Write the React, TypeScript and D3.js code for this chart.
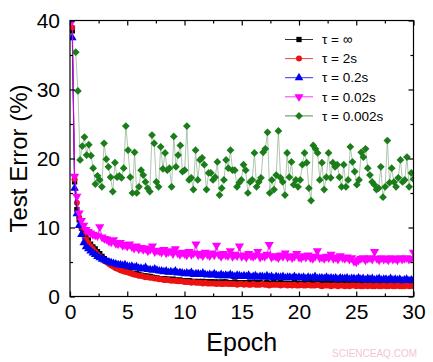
import React, { useEffect, useRef } from 'react';
import * as d3 from 'd3';

// test error (%) per 0.2 epoch
const epochStep = 0.2;

const tauInf = [
  38.5, 16.6, 12.6, 11.1, 9.9, 9.2, 8.6, 8.2, 7.6, 7.2,
  6.9, 6.5, 6.2, 5.8, 5.5, 5.2, 5.0, 4.8, 4.5, 4.3,
  4.2, 4.0, 3.9, 3.7, 3.6, 3.6, 3.4, 3.3, 3.3, 3.2,
  3.1, 3.0, 3.0, 2.9, 2.9, 2.8, 2.7, 2.7, 2.6, 2.6,
  2.6, 2.5, 2.5, 2.4, 2.5, 2.4, 2.3, 2.4, 2.3, 2.3,
  2.2, 2.3, 2.2, 2.2, 2.1, 2.2, 2.1, 2.2, 2.1, 2.1,
  2.1, 2.1, 2.1, 2.0, 2.1, 2.0, 2.1, 2.1, 2.0, 2.0,
  2.0, 2.1, 2.0, 2.0, 1.9, 2.0, 2.0, 1.9, 2.0, 2.0,
  1.9, 2.0, 2.0, 1.9, 1.9, 2.0, 1.9, 1.9, 2.0, 1.9,
  1.9, 2.0, 1.9, 1.9, 1.9, 1.8, 1.9, 2.0, 1.9, 1.9,
  1.9, 1.8, 1.9, 1.9, 2.0, 1.9, 1.8, 1.9, 1.9, 1.8,
  1.9, 1.9, 1.8, 1.9, 1.9, 1.8, 1.9, 1.9, 1.8, 1.9,
  1.8, 1.9, 1.9, 1.8, 1.9, 1.8, 1.9, 1.9, 1.8, 1.8,
  1.9, 1.8, 1.9, 1.8, 1.8, 1.9, 1.8, 1.8, 1.9, 1.8,
  1.8, 1.9, 1.8, 1.8, 1.9, 1.8, 1.8, 1.9, 1.8, 1.9,
];

const tau2s = [
  39.0, 17.0, 13.6, 11.5, 10.0, 9.0, 8.3, 7.8, 7.3, 6.9,
  6.5, 6.1, 5.8, 5.5, 5.2, 5.0, 4.7, 4.5, 4.3, 4.1,
  4.0, 3.8, 3.7, 3.6, 3.5, 3.4, 3.3, 3.2, 3.1, 3.0,
  3.0, 2.9, 2.8, 2.8, 2.7, 2.7, 2.6, 2.6, 2.5, 2.5,
  2.4, 2.4, 2.4, 2.3, 2.3, 2.3, 2.2, 2.2, 2.2, 2.1,
  2.1, 2.1, 2.0, 2.1, 2.0, 2.0, 2.0, 1.9, 2.0, 1.9,
  1.9, 1.9, 1.9, 1.8, 1.9, 1.8, 1.8, 1.9, 1.8, 1.8,
  1.8, 1.8, 1.7, 1.8, 1.8, 1.7, 1.8, 1.7, 1.7, 1.8,
  1.7, 1.7, 1.7, 1.8, 1.7, 1.7, 1.6, 1.7, 1.7, 1.7,
  1.7, 1.6, 1.7, 1.7, 1.6, 1.7, 1.6, 1.7, 1.6, 1.6,
  1.7, 1.6, 1.6, 1.7, 1.6, 1.6, 1.6, 1.7, 1.6, 1.5,
  1.6, 1.6, 1.6, 1.5, 1.6, 1.6, 1.5, 1.6, 1.6, 1.5,
  1.6, 1.5, 1.6, 1.6, 1.5, 1.6, 1.5, 1.5, 1.6, 1.5,
  1.6, 1.5, 1.5, 1.6, 1.5, 1.5, 1.6, 1.5, 1.5, 1.6,
  1.5, 1.5, 1.6, 1.5, 1.5, 1.5, 1.6, 1.5, 1.5, 1.6,
];

const tau02s = [
  37.5, 15.7, 12.0, 10.3, 9.0, 7.8, 7.2, 6.9, 6.6, 6.3,
  6.1, 5.8, 5.6, 5.4, 5.3, 5.1, 5.0, 4.9, 4.8, 4.7,
  4.6, 4.6, 4.5, 4.6, 4.4, 4.3, 4.4, 4.2, 4.3, 4.1,
  4.1, 4.0, 4.2, 3.9, 3.9, 3.8, 4.0, 3.8, 3.7, 3.7,
  3.6, 3.7, 3.5, 3.6, 3.5, 3.7, 3.4, 3.5, 3.4, 3.3,
  3.4, 3.3, 3.5, 3.2, 3.3, 3.3, 3.2, 3.4, 3.2, 3.1,
  3.2, 3.1, 3.3, 3.1, 3.0, 3.2, 3.0, 3.1, 3.0, 3.2,
  3.0, 2.9, 3.1, 3.0, 2.9, 3.0, 2.9, 3.1, 2.8, 2.9,
  3.0, 2.8, 2.9, 2.9, 2.8, 3.0, 2.8, 2.9, 2.7, 2.9,
  2.8, 2.8, 2.9, 2.7, 2.8, 2.8, 2.7, 2.9, 2.7, 2.8,
  2.7, 2.8, 2.6, 2.8, 2.7, 2.7, 2.9, 2.6, 2.7, 2.7,
  2.6, 2.8, 2.6, 2.7, 2.6, 2.7, 2.5, 2.7, 2.6, 2.6,
  2.7, 2.5, 2.6, 2.6, 2.5, 2.7, 2.5, 2.6, 2.4, 2.6,
  2.5, 2.6, 2.4, 2.5, 2.6, 2.4, 2.5, 2.5, 2.4, 2.6,
  2.4, 2.5, 2.4, 2.5, 2.3, 2.4, 2.5, 2.3, 2.4, 2.4,
];

const tau002s = [
  40.0, 17.4, 14.5, 12.1, 11.0, 10.3, 9.7, 9.4, 9.2, 9.0,
  8.9, 8.8, 10.1, 8.6, 8.4, 8.3, 8.0, 7.9, 8.2, 7.7,
  7.6, 7.8, 7.4, 7.5, 7.3, 7.6, 7.2, 7.0, 7.3, 6.9,
  7.1, 6.8, 7.0, 6.6, 6.8, 7.3, 6.5, 6.7, 6.6, 6.4,
  6.8, 6.3, 6.5, 6.6, 6.2, 6.9, 6.3, 6.1, 6.4, 6.2,
  6.0, 6.5, 6.1, 6.3, 7.6, 6.0, 6.2, 5.9, 6.4, 6.1,
  5.9, 6.3, 6.0, 7.4, 6.1, 5.8, 6.2, 6.0, 5.9, 6.6,
  5.8, 6.1, 5.9, 7.3, 5.8, 6.0, 5.7, 6.2, 5.9, 5.8,
  6.0, 6.5, 5.7, 5.9, 5.8, 6.1, 7.5, 5.7, 5.9, 5.8,
  5.6, 6.0, 5.8, 6.3, 5.7, 5.9, 5.6, 5.8, 6.2, 5.7,
  5.6, 5.9, 5.7, 6.0, 5.6, 5.5, 5.8, 6.6, 5.6, 5.7,
  5.5, 5.8, 5.6, 6.1, 5.5, 5.7, 5.4, 5.9, 5.6, 5.5,
  5.7, 5.4, 5.6, 5.1, 5.0, 5.3, 5.5, 5.6, 5.3, 5.5,
  5.6, 5.4, 6.5, 5.5, 5.3, 5.6, 5.4, 5.5, 5.3, 5.6,
  5.4, 5.5, 5.3, 5.6, 5.4, 5.5, 5.6, 5.4, 5.5, 6.4,
];

// the 0.002s run is sampled a bit differently; starts around epoch 0.5
const tau0002sStart = 0.5;
const tau0002s = [
  35.4, 29.8, 19.8, 21.8, 23.1, 20.5, 22.0, 20.4, 18.6, 16.3,
  17.5, 16.9, 15.9, 22.2, 19.9, 18.8, 17.3, 15.2, 19.4, 17.3,
  17.5, 17.2, 18.6, 24.7, 21.2, 17.3, 15.0, 20.9, 15.0, 15.9,
  18.3, 17.6, 16.6, 15.7, 15.2, 23.4, 22.2, 16.6, 15.9, 21.7,
  18.5, 20.8, 18.3, 18.6, 15.9, 23.2, 18.8, 20.5, 21.9, 18.1,
  18.3, 24.7, 16.9, 17.2, 15.5, 21.2, 16.9, 19.8, 20.1, 19.1,
  15.5, 17.9, 17.9, 16.9, 17.3, 19.5, 14.7, 15.7, 16.9, 19.8,
  18.6, 21.2, 18.3, 18.3, 15.9, 16.5, 16.9, 19.1, 18.3, 15.0,
  16.6, 16.9, 20.8, 15.9, 16.6, 17.2, 20.9, 21.4, 23.8, 15.0,
  16.9, 15.5, 17.6, 24.0, 17.2, 16.6, 14.7, 20.8, 17.3, 19.5,
  16.2, 16.9, 15.9, 16.9, 19.1, 20.8, 19.4, 15.7, 13.9, 21.9,
  21.4, 20.8, 16.9, 19.4, 15.5, 17.3, 20.8, 17.2, 19.4, 18.8,
  19.1, 17.3, 15.9, 19.1, 15.9, 16.9, 21.7, 19.5, 18.1, 16.2,
  16.9, 20.9, 20.2, 21.4, 18.6, 17.6, 16.6, 16.2, 15.5, 15.7,
  18.8, 14.4, 15.9, 22.6, 16.5, 18.6, 16.6, 15.9, 17.2, 19.8,
  16.6, 16.9, 20.2, 15.9, 17.9, 17.0,
];

const legendLabels = ['τ = ∞', 'τ = 2s', 'τ = 0.2s', 'τ = 0.02s', 'τ = 0.002s'];
const xTicks = [0, 5, 10, 15, 20, 25, 30];
const xMinorTicks = [2.5, 7.5, 12.5, 17.5, 22.5, 27.5];
const yTicks = [0, 10, 20, 30, 40];
const yMinorTicks = [5, 15, 25, 35];

const App = () => {
  const chartRef = useRef(null);

  useEffect(() => {
    const width = 433;
    const height = 362;
    const margin = { top: 20.5, right: 19.5, bottom: 65, left: 70 };
    const font = '"Liberation Sans", Arial, sans-serif';

    d3.select(chartRef.current).selectAll('*').remove();

    const svg = d3
      .select(chartRef.current)
      .append('svg')
      .attr('width', width)
      .attr('height', height)
      .style('position', 'absolute')
      .style('left', 0)
      .style('top', 0)
      .style('background', '#fff');

    const x = d3.scaleLinear().domain([0, 30]).range([margin.left, width - margin.right]);
    const y = d3.scaleLinear().domain([0, 40]).range([height - margin.bottom - 0.5, margin.top]);

    svg
      .append('clipPath')
      .attr('id', 'plot-clip')
      .append('rect')
      .attr('x', x(0))
      .attr('y', y(40))
      .attr('width', x(30) - x(0))
      .attr('height', y(0) - y(40));

    const makeSeries = (values, start, step) =>
      values.map((v, i) => ({ e: start + i * step, v }));

    const series = [
      { data: makeSeries(tauInf, epochStep, epochStep), color: '#000000', line: '#000000', symbol: d3.symbolSquare, size: 28, rotate: 0 },
      { data: makeSeries(tau2s, epochStep, epochStep), color: '#ee1111', line: '#ee1111', symbol: d3.symbolCircle, size: 28, rotate: 0 },
      { data: makeSeries(tau02s, epochStep, epochStep), color: '#0000ee', line: '#0000ee', symbol: d3.symbolTriangle, size: 32, rotate: 0 },
      { data: makeSeries(tau002s, epochStep, epochStep), color: '#ff00ff', line: '#ff00ff', symbol: d3.symbolTriangle, size: 36, rotate: 180 },
      {
        data: makeSeries(tau0002s, tau0002sStart, (30 - tau0002sStart) / (tau0002s.length - 1)),
        color: '#1a7d1a',
        line: '#9ab89a',
        symbol: d3.symbolSquare,
        size: 30,
        rotate: 45,
      },
    ];

    const plot = svg.append('g').attr('clip-path', 'url(#plot-clip)');
    const line = d3
      .line()
      .x((d) => x(d.e))
      .y((d) => y(d.v));

    series.forEach((s) => {
      plot
        .append('path')
        .datum(s.data)
        .attr('d', line)
        .attr('fill', 'none')
        .attr('stroke', s.line)
        .attr('stroke-width', 0.8);

      plot
        .selectAll(null)
        .data(s.data)
        .enter()
        .append('path')
        .attr('d', d3.symbol().type(s.symbol).size(s.size))
        .attr('transform', (d) => `translate(${x(d.e)},${y(d.v)}) rotate(${s.rotate})`)
        .attr('fill', s.color);
    });

    // frame
    svg
      .append('rect')
      .attr('x', x(0))
      .attr('y', y(40))
      .attr('width', x(30) - x(0))
      .attr('height', y(0) - y(40))
      .attr('fill', 'none')
      .attr('stroke', '#000')
      .attr('stroke-width', 1.2);

    const styleAxis = (g) => {
      g.select('.domain').remove();
      g.selectAll('line').attr('stroke', '#000').attr('stroke-width', 1.2);
      g.selectAll('text').attr('fill', '#000').style('font-family', font).style('font-size', '21px');
    };

    svg
      .append('g')
      .attr('transform', `translate(0,${y(0)})`)
      .call(d3.axisBottom(x).tickValues(xTicks).tickSize(-5).tickPadding(8))
      .call(styleAxis);
    svg
      .append('g')
      .attr('transform', `translate(0,${y(0)})`)
      .call(d3.axisBottom(x).tickValues(xMinorTicks).tickSize(-3).tickFormat(() => ''))
      .call(styleAxis);
    svg
      .append('g')
      .attr('transform', `translate(0,${y(40)})`)
      .call(d3.axisTop(x).tickValues(xTicks).tickSize(-5).tickFormat(() => ''))
      .call(styleAxis);
    svg
      .append('g')
      .attr('transform', `translate(0,${y(40)})`)
      .call(d3.axisTop(x).tickValues(xMinorTicks).tickSize(-3).tickFormat(() => ''))
      .call(styleAxis);
    svg
      .append('g')
      .attr('transform', `translate(${x(0)},0)`)
      .call(d3.axisLeft(y).tickValues(yTicks).tickSize(-5).tickPadding(10))
      .call(styleAxis);
    svg
      .append('g')
      .attr('transform', `translate(${x(0)},0)`)
      .call(d3.axisLeft(y).tickValues(yMinorTicks).tickSize(-3).tickFormat(() => ''))
      .call(styleAxis);
    svg
      .append('g')
      .attr('transform', `translate(${x(30)},0)`)
      .call(d3.axisRight(y).tickValues(yTicks).tickSize(-5).tickFormat(() => ''))
      .call(styleAxis);
    svg
      .append('g')
      .attr('transform', `translate(${x(30)},0)`)
      .call(d3.axisRight(y).tickValues(yMinorTicks).tickSize(-3).tickFormat(() => ''))
      .call(styleAxis);

    // axis titles
    svg
      .append('text')
      .attr('x', (x(0) + x(30)) / 2)
      .attr('y', 351)
      .attr('text-anchor', 'middle')
      .style('font-family', font)
      .style('font-size', '25px')
      .text('Epoch');

    svg
      .append('text')
      .attr('transform', `translate(27,${(y(0) + y(40)) / 2}) rotate(-90)`)
      .attr('text-anchor', 'middle')
      .style('font-family', font)
      .style('font-size', '24px')
      .text('Test Error (%)');

    // legend
    const legend = svg.append('g');
    series.forEach((s, i) => {
      const ly = 39.5 + i * 19.1;
      legend
        .append('line')
        .attr('x1', 285)
        .attr('x2', 313)
        .attr('y1', ly)
        .attr('y2', ly)
        .attr('stroke', s.color)
        .attr('stroke-width', 0.8);
      legend
        .append('path')
        .attr('d', d3.symbol().type(s.symbol).size(s.size))
        .attr('transform', `translate(299,${ly}) rotate(${s.rotate})`)
        .attr('fill', s.color);
      legend
        .append('text')
        .attr('x', 322)
        .attr('y', ly)
        .attr('dy', '0.35em')
        .style('font-family', font)
        .style('font-size', '13.5px')
        .text(legendLabels[i]);
    });

    // watermark
    svg
      .append('text')
      .attr('x', 417)
      .attr('y', 357)
      .attr('text-anchor', 'end')
      .attr('fill', '#f2c6cf')
      .style('font-family', font)
      .style('font-size', '10px')
      .text('SCIENCEAQ.COM');
  }, []);

  return <div ref={chartRef}></div>;
};

export default App;
